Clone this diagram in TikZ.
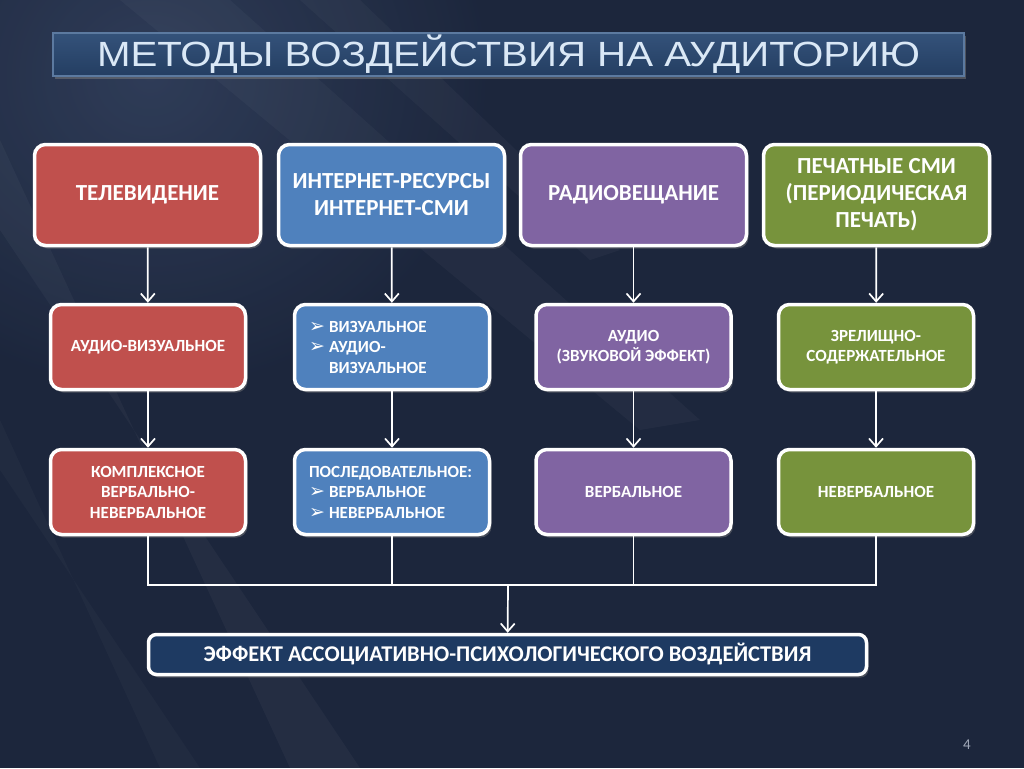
\documentclass[tikz,border=0pt]{standalone}
\usepackage{fontspec}
\setmainfont{Carlito}
\newfontfamily\titlefont[FakeStretch=1.15]{Liberation Sans}
\newfontfamily\symfont{DejaVu Sans}
\usetikzlibrary{arrows.meta,shadows}
\definecolor{bg}{RGB}{28,38,60}
\definecolor{bglight}{RGB}{52,66,95}
\definecolor{cred}{RGB}{192,80,77}
\definecolor{cblue}{RGB}{79,129,189}
\definecolor{cpurple}{RGB}{128,100,162}
\definecolor{cgreen}{RGB}{119,147,60}
\definecolor{cnavy}{RGB}{30,58,98}
\definecolor{titletop}{RGB}{52,82,122}
\definecolor{titlebot}{RGB}{36,62,98}
\definecolor{titleedge}{RGB}{92,122,160}
\definecolor{titletext}{RGB}{218,232,246}
\definecolor{pagenum}{RGB}{160,168,184}
\newcommand\bul{\makebox[20pt][l]{\symfont\fontsize{19}{19}\selectfont ➢}}
\begin{document}
\begin{tikzpicture}[x=1pt,y=-1pt,
  box/.style={draw=white, line width=3.5pt, rounded corners=11pt, text=white,
    align=center, inner sep=0pt,
    drop shadow={opacity=0.45,shadow xshift=2pt,shadow yshift=-3pt}},
  topbox/.style={box, minimum width=226pt, minimum height=101pt,
    font=\fontsize{23}{27}\selectfont\bfseries},
  midbox/.style={box, minimum width=195pt, minimum height=85pt,
    font=\fontsize{17}{20.5}\selectfont\bfseries},
  listbox/.style={midbox, align=left, text width=166pt},
  arr/.style={draw=white, line width=1.7pt, -{Straight Barb[length=8pt,width=14pt]}},
  ln/.style={draw=white, line width=1.7pt}
]
\useasboundingbox (0,0) rectangle (1024,768);
% background
\fill[bg] (0,0) rectangle (1024,768);
\shade[inner color=bglight, outer color=bg, opacity=0.8] (-200,-250) rectangle (500,400);
\fill[white, opacity=0.035] (0,140) -- (0,230) -- (360,768) -- (290,768) -- cycle;
\fill[white, opacity=0.03] (120,0) -- (230,0) -- (700,420) -- (640,430) -- cycle;
\fill[white, opacity=0.025] (0,420) -- (0,470) -- (200,768) -- (160,768) -- cycle;
\fill[white, opacity=0.03] (300,0) -- (360,0) -- (620,250) -- (590,260) -- cycle;

% title
\node[draw=titleedge, line width=1.5pt, top color=titletop, bottom color=titlebot,
  minimum width=911pt, minimum height=43pt, inner sep=0pt,
  text=titletext, font=\titlefont\fontsize{35}{35}\selectfont,
  drop shadow={opacity=0.5,shadow xshift=2pt,shadow yshift=-3pt}]
  (title) at (508.5,54.5) {МЕТОДЫ ВОЗДЕЙСТВИЯ НА АУДИТОРИЮ};

% row 1
\node[topbox, fill=cred] (t1) at (147.5,195) {ТЕЛЕВИДЕНИЕ};
\node[topbox, fill=cblue] (t2) at (391.5,195) {ИНТЕРНЕТ-РЕСУРСЫ\\ИНТЕРНЕТ-СМИ};
\node[topbox, fill=cpurple] (t3) at (633.5,195) {РАДИОВЕЩАНИЕ};
\node[topbox, fill=cgreen] (t4) at (876.5,195) {ПЕЧАТНЫЕ СМИ\\(ПЕРИОДИЧЕСКАЯ\\ПЕЧАТЬ)};

% row 2
\node[midbox, fill=cred] (m1) at (148,347) {АУДИО-ВИЗУАЛЬНОЕ};
\node[listbox, fill=cblue] (m2) at (392,347) {\bul ВИЗУАЛЬНОЕ\\\bul АУДИО-\\\hspace*{20pt}ВИЗУАЛЬНОЕ};
\node[midbox, fill=cpurple] (m3) at (633.5,347) {АУДИО\\(ЗВУКОВОЙ ЭФФЕКТ)};
\node[midbox, fill=cgreen] (m4) at (876,347) {ЗРЕЛИЩНО-\\СОДЕРЖАТЕЛЬНОЕ};

% row 3
\node[midbox, fill=cred] (b1) at (148,492) {КОМПЛЕКСНОЕ\\ВЕРБАЛЬНО-\\НЕВЕРБАЛЬНОЕ};
\node[listbox, fill=cblue] (b2) at (392,492) {ПОСЛЕДОВАТЕЛЬНОЕ:\\\bul ВЕРБАЛЬНОЕ\\\bul НЕВЕРБАЛЬНОЕ};
\node[midbox, fill=cpurple] (b3) at (633.5,492) {ВЕРБАЛЬНОЕ};
\node[midbox, fill=cgreen] (b4) at (876,492) {НЕВЕРБАЛЬНОЕ};

% result
\node[box, fill=cnavy, rounded corners=8pt, minimum width=718pt, minimum height=40pt,
  font=\fontsize{22.5}{22.5}\selectfont\bfseries] (res) at (507.5,654.5)
  {ЭФФЕКТ АССОЦИАТИВНО-ПСИХОЛОГИЧЕСКОГО ВОЗДЕЙСТВИЯ};

% arrows
\foreach \a/\b in {t1/m1,t2/m2,t3/m3,t4/m4,m1/b1,m2/b2,m3/b3,m4/b4}
  \draw[arr] (\a) -- (\b);
\coordinate (j) at (508,585);
\draw[ln] (b1.south) -- (b1.south |- j) -- (b4.south |- j) -- (b4.south);
\draw[ln] (b2.south) -- (b2.south |- j);
\draw[ln] (b3.south) -- (b3.south |- j);
\draw[arr] (j) -- (res);

% page number
\node[text=pagenum, font=\fontsize{15}{15}\selectfont] (pg) at (967,745) {4};
\end{tikzpicture}
\end{document}
